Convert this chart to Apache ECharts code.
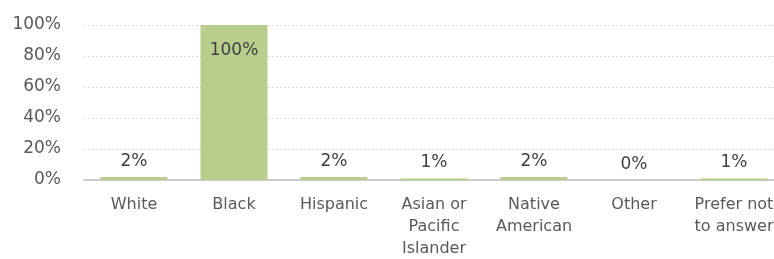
<!DOCTYPE html>
<html>
<head>
<meta charset="utf-8">
<script src="https://cdn.jsdelivr.net/npm/echarts@6/dist/echarts.min.js"></script>
<style>
  html, body { margin: 0; padding: 0; background: #fff; }
  #chart { width: 774px; height: 259px; }
</style>
</head>
<body>
<div id="chart"></div>
<script>
const categories = ['White', 'Black', 'Hispanic', 'Asian or\nPacific\nIslander', 'Native\nAmerican', 'Other', 'Prefer not\nto answer'];
const values = [2, 100, 2, 1, 2, 0, 1];
const yTicks = [0, 20, 40, 60, 80, 100];

const font = 'DejaVu Sans';

let myChart = echarts.init(document.getElementById('chart'));

let option = {
    animation: false,
    grid: {
        left: 84,
        right: -10,
        top: 25,
        bottom: 79,
        containLabel: false,
        outerBoundsMode: 'none'
    },
    xAxis: {
        type: 'category',
        data: categories,
        axisLine: { lineStyle: { color: '#bfbfbf', width: 1.5 } },
        axisTick: { show: false },
        axisLabel: {
            interval: 0,
            margin: 14,
            color: '#595959',
            fontFamily: font,
            fontSize: 16,
            lineHeight: 22
        }
    },
    yAxis: {
        type: 'value',
        min: yTicks[0],
        max: yTicks[yTicks.length - 1],
        interval: 20,
        axisLine: { show: false },
        axisTick: { show: false },
        axisLabel: {
            margin: 23,
            color: '#595959',
            fontFamily: font,
            fontSize: 17,
            padding: [3, 0, 0, 0],
            formatter: '{value}%'
        },
        splitLine: { lineStyle: { color: '#d9d9d9', type: [2, 2] } }
    },
    series: [
        {
            type: 'bar',
            barCategoryGap: '33%',
            itemStyle: { color: '#b9cd8c' },
            label: {
                show: true,
                position: 'top',
                distance: 7,
                color: '#404040',
                fontFamily: font,
                fontSize: 17,
                formatter: '{c}%'
            },
            data: values.map(v => v >= 50
                ? { value: v, label: { position: 'insideTop', distance: 17 } }
                : v)
        }
    ]
};

myChart.setOption(option);
</script>
</body>
</html>
